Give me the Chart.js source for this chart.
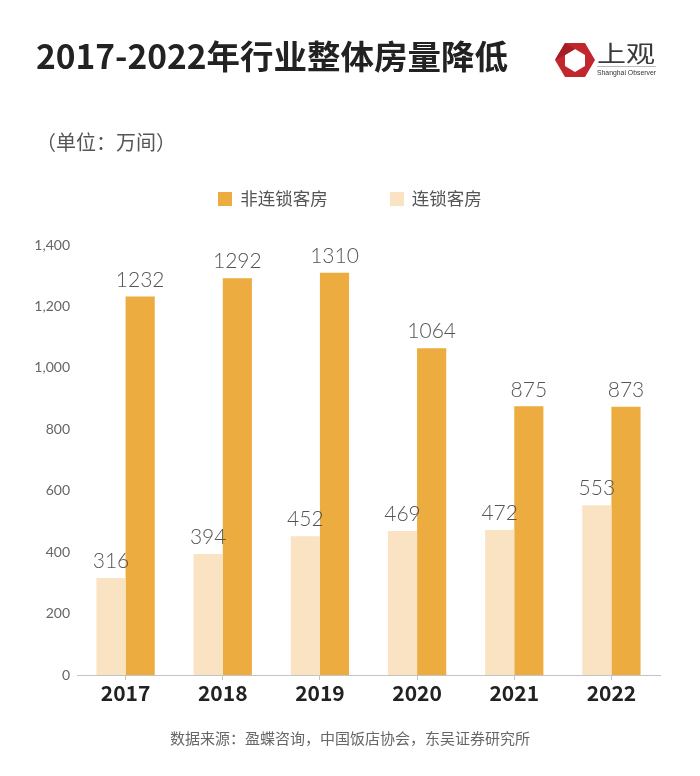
<!DOCTYPE html>
<html>
<head>
<meta charset="utf-8">
<script src="https://cdn.jsdelivr.net/npm/chart.js@4/dist/chart.umd.min.js"></script>
<style>
  html, body { margin: 0; padding: 0; background: #fff; }
  #wrap { position: relative; width: 700px; height: 776px; overflow: hidden; font-family: "Noto Sans CJK SC", "Noto Sans", sans-serif; }
  #chart { position: absolute; left: 0; top: 0; }
  .title { position: absolute; left: 36px; top: 31px; font-size: 33.5px; font-weight: bold; color: #222; line-height: 48px; white-space: nowrap; }
  .unit { position: absolute; left: 36px; top: 128px; font-size: 20px; color: #555; line-height: 28px; }
  .legend { position: absolute; left: 0; width: 700px; top: 186px; text-align: center; font-size: 17.5px; color: #555; line-height: 24px; }
  .legend span.item { display: inline-block; margin: 0 31px; }
  .legend i { display: inline-block; width: 14px; height: 14px; margin-right: 8px; vertical-align: -1px; }
  .source { position: absolute; left: 0; width: 700px; top: 727px; text-align: center; font-size: 15px; color: #666; line-height: 22px; }
  .logo { position: absolute; left: 552px; top: 38px; }
</style>
</head>
<body>
<div id="wrap">
  <canvas id="chart" width="700" height="776"></canvas>
  <div class="title">2017-2022年行业整体房量降低</div>
  <div class="unit">（单位：万间）</div>
  <div class="legend" id="legend"></div>
  <div class="source">数据来源：盈蝶咨询，中国饭店协会，东吴证券研究所</div>
  <svg class="logo" width="120" height="44" viewBox="0 0 120 44">
    <polygon points="3,22 13,5 33,5 43,22 33,39 13,39" fill="#c1272d"/>
    <polygon points="23,11 33,17 33,28 23,34 13,28 13,17" fill="#fff"/>
    <polygon points="3,22 13,5 23,11 13,17" fill="#a51e23"/>
    <text x="45" y="24" font-size="23" fill="#3a3a3a" font-family="Noto Sans CJK SC" textLength="58" lengthAdjust="spacingAndGlyphs">上观</text>
    <line x1="45" y1="28.5" x2="104" y2="28.5" stroke="#aaa" stroke-width="0.8"/>
    <text x="45" y="37" font-size="8" fill="#333" font-family="Liberation Sans" textLength="59" lengthAdjust="spacingAndGlyphs">Shanghai Observer</text>
  </svg>
</div>
<script>
const years = ['2017', '2018', '2019', '2020', '2021', '2022'];
const chainRooms = [316, 394, 452, 469, 472, 553];
const nonChainRooms = [1232, 1292, 1310, 1064, 875, 873];
const yTicks = [0, 200, 400, 600, 800, 1000, 1200, 1400];

const darkColor = '#ecac40';
const lightColor = '#f9e3c2';

// Draw value labels above each bar
const valueLabels = {
  id: 'valueLabels',
  afterDatasetsDraw(chart) {
    const ctx = chart.ctx;
    ctx.save();
    ctx.font = '300 21px Lato, "DejaVu Sans", sans-serif';
    ctx.fillStyle = '#555';
    ctx.textAlign = 'center';
    ctx.textBaseline = 'bottom';
    chart.data.datasets.forEach((ds, i) => {
      chart.getDatasetMeta(i).data.forEach((bar, j) => {
        ctx.fillText(String(ds.data[j]), bar.x, bar.y - 6);
      });
    });
    ctx.restore();
  }
};

const chart = new Chart(document.getElementById('chart'), {
  type: 'bar',
  data: {
    labels: years,
    datasets: [
      { label: '连锁客房', data: chainRooms, backgroundColor: lightColor, borderWidth: 0 },
      { label: '非连锁客房', data: nonChainRooms, backgroundColor: darkColor, borderWidth: 0 }
    ]
  },
  options: {
    responsive: false,
    animation: false,
    events: [],
    layout: { padding: { left: 0, right: 40, top: 245, bottom: 61 } },
    datasets: { bar: { categoryPercentage: 0.6, barPercentage: 1.0 } },
    plugins: { legend: { display: false }, tooltip: { enabled: false } },
    scales: {
      x: {
        afterFit(scale) { scale.height = 40; },
        border: { display: true, color: '#c4c4c4', width: 1 },
        grid: { display: true, offset: false, drawOnChartArea: false, drawTicks: true, tickLength: 5, color: '#c4c4c4' },
        ticks: { color: '#222', padding: 0, font: { family: '"Noto Sans CJK SC", "Noto Sans", sans-serif', size: 21, weight: 'bold' } }
      },
      y: {
        min: 0,
        max: 1400,
        afterFit(scale) { scale.width = 77; },
        afterBuildTicks(scale) { scale.ticks = yTicks.map(v => ({ value: v })); },
        border: { display: false },
        grid: { display: false, drawTicks: false },
        ticks: {
          color: '#666',
          padding: 7,
          font: { family: 'Lato, "DejaVu Sans", sans-serif', size: 14 },
          callback: v => v.toLocaleString('en-US')
        }
      }
    }
  },
  plugins: [valueLabels]
});

// Legend in the order of the reference: non-chain first
const legend = document.getElementById('legend');
chart.data.datasets.slice().reverse().forEach(ds => {
  const item = document.createElement('span');
  item.className = 'item';
  item.innerHTML = '<i style="background:' + ds.backgroundColor + '"></i>' + ds.label;
  legend.appendChild(item);
});
</script>
</body>
</html>
